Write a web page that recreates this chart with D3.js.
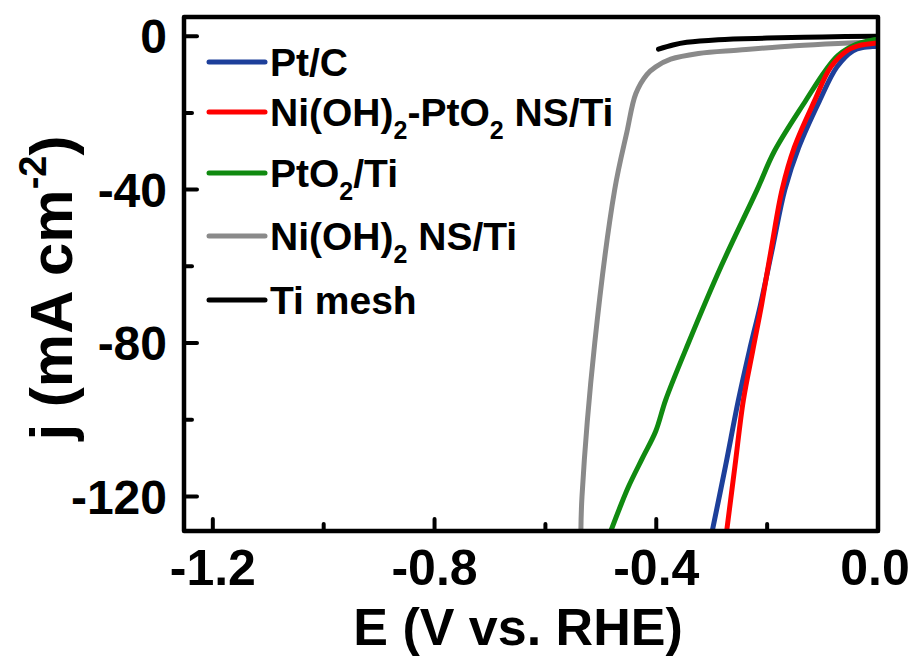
<!DOCTYPE html>
<html><head><meta charset="utf-8">
<script src="https://cdn.jsdelivr.net/npm/d3@7"></script>
<style>body{margin:0;background:#fff}svg{display:block}text{font-family:"Liberation Sans",Arial,sans-serif;font-weight:bold;fill:#000}</style>
</head><body><svg id="c" width="918" height="659"></svg>
<script>
// ---- data ----
const seriesNames = ["Pt/C", "Ni(OH)2-PtO2 NS/Ti", "PtO2/Ti", "Ni(OH)2 NS/Ti", "Ti mesh"];
const seriesColors = ["#1d3f9a", "#ff0000", "#108a10", "#8a8a8a", "#000000"];
const ptcE = [-0.299, -0.275, -0.252, -0.232, -0.212, -0.19, -0.168, -0.143, -0.106, -0.074, -0.045, -0.025, -0.01, 0];
const ptcJ = [-129, -112, -95, -82, -70, -55, -40, -29, -17, -8, -3.8, -2.9, -2.7, -2.6];
const niptE = [-0.273, -0.258, -0.243, -0.226, -0.21, -0.192, -0.173, -0.151, -0.115, -0.085, -0.054, -0.03, -0.01, 0];
const niptJ = [-129, -112, -95, -82, -70, -55, -40, -29, -17, -8, -3.6, -2.3, -1.9, -1.8];
const pto2E = [-0.482, -0.466, -0.45, -0.425, -0.401, -0.383, -0.342, -0.283, -0.218, -0.187, -0.13, -0.095, -0.072, -0.04, -0.013, 0];
const pto2J = [-129, -123, -117.4, -110, -103, -94.8, -80, -60, -40, -30, -16.7, -9, -5, -2.2, -1.1, -0.8];
const nihE = [-0.536, -0.534, -0.511, -0.475, -0.453, -0.437, -0.417, -0.401, -0.374, -0.324, -0.25, -0.15, -0.072, 0];
const nihJ = [-129, -120, -80, -40, -25, -15, -10, -8, -6, -4.5, -3.6, -2.5, -1.9, -1.5];
const tiE = [-0.396, -0.37, -0.345, -0.288, -0.2, -0.1, 0];
const tiJ = [-3.4, -2.3, -1.6, -0.9, -0.5, -0.2, 0];
const seriesE = [ptcE, niptE, pto2E, nihE, tiE];
const seriesJ = [ptcJ, niptJ, pto2J, nihJ, tiJ];
const xMajor = [-1.2, -0.8, -0.4, 0.0];
const xMinor = [-1.0, -0.6, -0.2];
const yMajor = [0, -40, -80, -120];
const yMinor = [-20, -60, -100];
const xTickLabels = ["-1.2", "-0.8", "-0.4", "0.0"];
const yTickLabels = ["0", "-40", "-80", "-120"];

// ---- layout ----
const L = 184, T = 17, R = 878, B = 531;
const svg = d3.select("#c");
const x = d3.scaleLinear().domain([-1.252, 0]).range([L, R]);
const y = d3.scaleLinear().domain([5, -129]).range([T, B]);

svg.append("clipPath").attr("id", "clip").append("rect")
  .attr("x", L).attr("y", T).attr("width", R - L).attr("height", B - T);

const line = d3.line().x(d => x(d[0])).y(d => y(d[1])).curve(d3.curveCatmullRom.alpha(0.5));
const g = svg.append("g").attr("clip-path", "url(#clip)");
// draw order: gray, black, green, blue, red
[3, 4, 2, 0, 1].forEach(i => {
  const pts = seriesE[i].map((e, k) => [e, seriesJ[i][k]]);
  g.append("path").attr("d", line(pts)).attr("fill", "none")
    .attr("stroke", seriesColors[i]).attr("stroke-width", 5)
    .attr("stroke-linecap", "round").attr("stroke-linejoin", "round");
});

// ticks
const tk = svg.append("g").attr("stroke", "#000").attr("stroke-width", 4).attr("stroke-linecap", "round");
xMajor.forEach(v => tk.append("line").attr("x1", x(v)).attr("x2", x(v)).attr("y1", B).attr("y2", B - 12));
xMinor.forEach(v => tk.append("line").attr("x1", x(v)).attr("x2", x(v)).attr("y1", B).attr("y2", B - 7));
yMajor.forEach(v => tk.append("line").attr("y1", y(v)).attr("y2", y(v)).attr("x1", L).attr("x2", L + 13));
yMinor.forEach(v => tk.append("line").attr("y1", y(v)).attr("y2", y(v)).attr("x1", L).attr("x2", L + 8));

// frame
svg.append("rect").attr("x", L).attr("y", T).attr("width", R - L).attr("height", B - T)
  .attr("fill", "none").attr("stroke", "#000").attr("stroke-width", 4.5).attr("stroke-linejoin", "round");

// tick labels
xMajor.forEach((v, i) => svg.append("text").attr("x", Math.min(x(v), 875)).attr("y", 585)
  .attr("text-anchor", "middle").attr("font-size", 50).text(xTickLabels[i]));
yMajor.forEach((v, i) => svg.append("text").attr("x", 167).attr("y", y(v)).attr("dy", "0.36em")
  .attr("text-anchor", "end").attr("font-size", 48).text(yTickLabels[i]));

// axis titles
svg.append("text").attr("x", 518).attr("y", 645).attr("text-anchor", "middle").attr("font-size", 52)
  .text("E (V vs. RHE)");
const yt = svg.append("text").attr("transform", "translate(72,288) rotate(-90)")
  .attr("text-anchor", "middle").attr("font-size", 60);
yt.append("tspan").text("j (mA cm");
yt.append("tspan").attr("font-size", 38).attr("dy", -26).text("-2");
yt.append("tspan").attr("dy", 26).text(")");

// legend
const legY = [62, 112, 173, 236, 300];
const lg = svg.append("g");
seriesNames.forEach((name, i) => {
  lg.append("line").attr("x1", 209).attr("x2", 265).attr("y1", legY[i]).attr("y2", legY[i])
    .attr("stroke", seriesColors[i]).attr("stroke-width", 5).attr("stroke-linecap", "round");
  const t = lg.append("text").attr("x", 270).attr("y", legY[i]).attr("dy", "0.36em").attr("font-size", 39);
  const parts = name.split(/(?<=[)O])2/);
  parts.forEach((p, k) => {
    t.append("tspan").attr("font-size", 39).attr("dy", k === 0 ? null : -13).text(p);
    if (k < parts.length - 1) t.append("tspan").attr("font-size", 25).attr("dy", 13).text("2");
  });
});
</script></body></html>
